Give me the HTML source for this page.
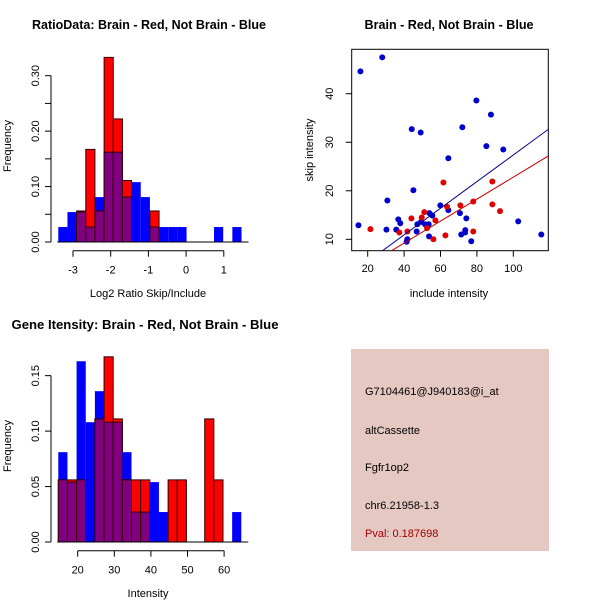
<!DOCTYPE html>
<html><head><meta charset="utf-8"><style>body{margin:0;background:#fff}svg{display:block;font-family:"Liberation Sans",sans-serif}</style></head>
<body>
<svg id="s" width="600" height="600" xmlns="http://www.w3.org/2000/svg"></svg>
<script>
// Ratio histogram data
const ratioStart = -3.39, ratioWidth = 0.243;
const ratioBlue = [0.027,0.054,0.054,0.027,0.081,0.162,0.162,0.081,0.108,0.081,0.027,0.027,0.027,0.027,0,0,0,0.027,0,0.027];
const ratioRed  = [0,0,0.056,0.167,0.056,0.333,0.222,0.111,0,0,0.056,0,0,0,0,0,0,0,0,0];
const ratioXTicks = [-3,-2,-1,0,1];
const ratioYTicks = [0,0.05,0.10,0.15,0.20,0.25,0.30];
const ratioYLabels = ["0.00","","0.10","","0.20","","0.30"];
// Intensity histogram data
const intStart = 14.7, intWidth = 2.5;
const intBlue = [0.081,0.054,0.163,0.108,0.136,0.108,0.108,0.081,0.027,0.027,0.054,0.027,0,0,0,0,0,0,0,0.027];
const intRed  = [0.056,0.056,0.056,0,0.111,0.167,0.111,0.056,0.056,0.056,0,0,0.056,0.056,0,0,0.111,0.056,0,0];
const intXTicks = [20,30,40,50,60];
const intYTicks = [0,0.05,0.10,0.15];
const intYLabels = ["0.00","0.05","0.10","0.15"];
// Scatter data
const blueX = [16,28,14.9,30.8,30.3,35.7,36.8,37.9,44.2,45.1,49.1,41.8,41.4,46.9,47.3,49.3,51.5,53.5,53.9,55.5,53.7,59.9,64.3,64.3,72,70.7,71.4,73.5,73.6,74.2,76.9,79.7,87.7,85.2,94.5,102.7,115.4];
const blueY = [44.6,47.5,12.9,18,12,12,14.1,13.3,32.7,20.1,32,10,9.5,11.6,13.1,13.6,13.1,13.1,15.4,14.9,10.6,17,16,26.7,33.1,15.4,11,11.4,11.9,14.3,9.6,38.6,35.7,29.2,28.5,13.7,11];
const redX = [21.5,37.4,41.8,44,49.7,51.1,52.6,57.2,56.1,61.6,62.7,63.6,70.9,78,78,88.5,88.5,92.7];
const redY = [12.1,11.4,11.6,14.3,14.5,15.6,12.3,13.9,10,21.7,10.8,16.7,17,17.8,11.6,21.9,17.2,15.8];
const blueFit = [-0.07, 0.2745];
const redFit = [0.15, 0.2266];
const scXTicks = [20,40,60,80,100];
const scYTicks = [10,20,30,40];

const S = document.getElementById('s');
const NS = 'http://www.w3.org/2000/svg';
function mk(tag, attrs, name, txt){
  const e = document.createElementNS(NS, tag);
  for (const k in attrs) e.setAttribute(k, attrs[k]);
  
  
  if (txt !== undefined) e.textContent = txt;
  S.appendChild(e);
  return e;
}
function text(x,y,t,name,opts){
  opts = opts||{};
  const a = {x:x,y:y,'font-size':opts.size||11,'text-anchor':opts.anchor||'middle',fill:opts.fill||'#000'};
  if (opts.bold) a['font-weight']='bold';
  if (opts.len) { a.textLength = opts.len; a.lengthAdjust = 'spacingAndGlyphs'; }
  if (opts.rot) a.transform='rotate(-90 '+x+' '+y+')';
  return mk('text', a, name, t);
}

function hist(cfg){
  const sx = v => cfg.x0 + (v - cfg.xv0) * cfg.xs;
  const sy = v => cfg.base - v * cfg.ys;
  const bw = cfg.width * cfg.xs;
  cfg.blue.forEach((b,i)=>{
    const r = cfg.red[i], x = sx(cfg.start + i*cfg.width);
    if (b>0) mk('rect',{x:x,y:sy(b),width:bw,height:b*cfg.ys,fill:'#0000FF'},'blue-bar-'+i);
    if (r>0) mk('rect',{x:x,y:sy(r),width:bw,height:r*cfg.ys,fill:'#FF0000',stroke:'#300',"stroke-width":1},'red-bar-'+i);
    const m = Math.min(b,r);
    if (m>0) mk('rect',{x:x,y:sy(m),width:bw,height:m*cfg.ys,fill:'#800080',stroke:'#300',"stroke-width":1},'overlap-bar-'+i);
  });
  const yt = cfg.yTicks;
  mk('line',{x1:cfg.yAxisX,x2:cfg.yAxisX,y1:sy(yt[0]),y2:sy(yt[yt.length-1]),stroke:'#000'},'y-axis');
  yt.forEach((t,i)=>{
    mk('line',{x1:cfg.yAxisX-6,x2:cfg.yAxisX,y1:sy(t),y2:sy(t),stroke:'#000'},'y-tick');
    if (cfg.yLabels[i]) text(cfg.yAxisX-12, sy(t), cfg.yLabels[i], 'y-tick-label', {rot:true});
  });
  const xt = cfg.xTicks;
  mk('line',{x1:sx(xt[0]),x2:sx(xt[xt.length-1]),y1:cfg.xAxisY,y2:cfg.xAxisY,stroke:'#000'},'x-axis');
  xt.forEach(t=>{
    mk('line',{x1:sx(t),x2:sx(t),y1:cfg.xAxisY,y2:cfg.xAxisY+6,stroke:'#000'},'x-tick');
    text(sx(t), cfg.xAxisY+23, String(t), 'x-tick-label');
  });
  mk('line',{x1:sx(cfg.start)-1,x2:sx(cfg.start+cfg.blue.length*cfg.width)+7,y1:cfg.base,y2:cfg.base,stroke:'#000'},'baseline');
}

hist({start:ratioStart,width:ratioWidth,blue:ratioBlue,red:ratioRed,x0:73,xv0:-3,xs:37.7,base:242,ys:554.4,
  yTicks:ratioYTicks,yLabels:ratioYLabels,xTicks:ratioXTicks,yAxisX:51,xAxisY:250.7});
text(149,29,'RatioData: Brain - Red, Not Brain - Blue','title-ratio',{size:13,bold:true,len:234});
text(148,297,'Log2 Ratio Skip/Include','x-axis-title-ratio');
text(11,146,'Frequency','y-axis-title-ratio',{rot:true});

hist({start:intStart,width:intWidth,blue:intBlue,red:intRed,x0:77.7,xv0:20,xs:3.66,base:542,ys:1109,
  yTicks:intYTicks,yLabels:intYLabels,xTicks:intXTicks,yAxisX:51,xAxisY:550.7});
text(145,329,'Gene Itensity: Brain - Red, Not Brain - Blue','title-intensity',{size:13,bold:true,len:267});
text(148,597,'Intensity','x-axis-title-intensity');
text(11,446,'Frequency','y-axis-title-intensity',{rot:true});

// scatter
const px = v => 367.7 + (v-20)*1.82;
const py = v => 239.3 - (v-10)*4.853;
mk('rect',{x:351.7,y:49.3,width:196.6,height:201.4,fill:'none',stroke:'#000'},'plot-frame');
const clip = mk('clipPath',{id:'c'},'clip');
const cr = document.createElementNS(NS,'rect');
cr.setAttribute('x',351.7);cr.setAttribute('y',49.3);cr.setAttribute('width',196.6);cr.setAttribute('height',201.4);
clip.appendChild(cr);
blueX.forEach((x,i)=>mk('circle',{cx:px(x),cy:py(blueY[i]),r:3,fill:'#0000CC'},'blue-point'));
redX.forEach((x,i)=>mk('circle',{cx:px(x),cy:py(redY[i]),r:3,fill:'#E00000'},'red-point'));
[[blueFit,'#00008B','blue-fit-line'],[redFit,'#CC0000','red-fit-line']].forEach(([f,c,n])=>{
  const x1=0,x2=130;
  mk('line',{x1:px(x1),y1:py(f[0]+f[1]*x1),x2:px(x2),y2:py(f[0]+f[1]*x2),stroke:c,'clip-path':'url(#c)'},n);
});
scXTicks.forEach(t=>{
  mk('line',{x1:px(t),x2:px(t),y1:250.7,y2:256.7,stroke:'#000'},'x-tick');
  text(px(t),272,String(t),'x-tick-label');
});
scYTicks.forEach(t=>{
  mk('line',{x1:345.7,x2:351.7,y1:py(t),y2:py(t),stroke:'#000'},'y-tick');
  text(333,py(t),String(t),'y-tick-label',{rot:true});
});
text(449,29,'Brain - Red, Not Brain - Blue','title-scatter',{size:13,bold:true,len:169});
text(449,297,'include intensity','x-axis-title-scatter');
text(313,150,'skip intensity','y-axis-title-scatter',{rot:true});

// info panel
mk('rect',{x:351,y:349,width:198,height:202,fill:'#E5C8C2'},'info-panel');
const info = [['G7104461@J940183@i_at',395,'probe-id'],['altCassette',434,'event-type'],['Fgfr1op2',471,'gene-name'],['chr6.21958-1.3',509,'location']];
info.forEach(([t,y,n])=>text(365,y,t,n,{anchor:'start'}));
text(365,537,'Pval: 0.187698','p-value',{anchor:'start',fill:'#A00000'});
</script>
</body></html>
